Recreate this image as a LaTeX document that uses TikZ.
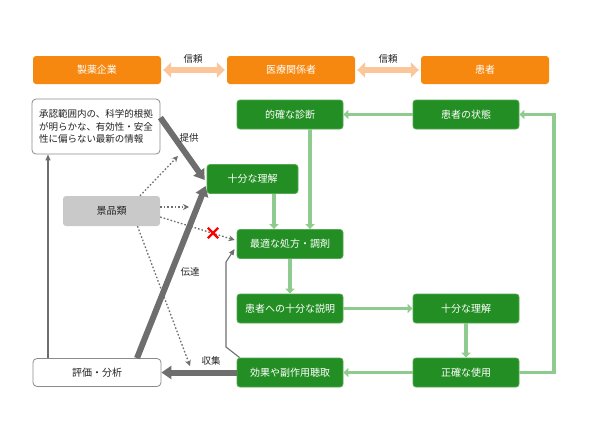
\documentclass[tikz,border=0pt]{standalone}
\usepackage{fontspec}
\setmainfont{Noto Sans CJK JP}
\usetikzlibrary{arrows.meta,calc}
\definecolor{orangec}{HTML}{F7880F}
\definecolor{peach}{HTML}{FBC79A}
\definecolor{greenc}{HTML}{238E23}
\definecolor{greenb}{HTML}{52AA52}
\definecolor{lgreen}{HTML}{8FCB8F}
\definecolor{dgray}{HTML}{6E6E6E}
\definecolor{kgray}{HTML}{C9C9C9}
\definecolor{txt}{HTML}{222222}
\begin{document}
\begin{tikzpicture}[x=1pt,y=-1pt,
  orangebox/.style={fill=orangec, rounded corners=3pt, minimum width=128pt, minimum height=28pt, inner sep=0pt, text=white, font=\fontsize{10}{12}\selectfont},
  greenbox/.style={fill=greenc, draw=greenb, line width=0.8pt, rounded corners=3pt, minimum width=106pt, minimum height=29pt, inner sep=0pt, text=white, font=\fontsize{10}{12}\selectfont},
  whitebox/.style={fill=white, draw=dgray!80, line width=0.8pt, rounded corners=4pt, minimum width=128pt, minimum height=28pt, inner sep=0pt, text=txt, font=\fontsize{9.5}{12.5}\selectfont},
  graybox/.style={fill=kgray, rounded corners=3pt, minimum width=97pt, minimum height=30pt, inner sep=0pt, text=txt, font=\fontsize{10}{12}\selectfont},
  lbl/.style={text=txt, font=\fontsize{9.5}{11}\selectfont, inner sep=0pt},
  trust/.style={draw=peach, line width=6pt, {Triangle[width=15pt,length=8pt]}-{Triangle[width=15pt,length=8pt]}},
  garrow/.style={draw=lgreen, line width=3.5pt, -{Triangle[width=9pt,length=5pt]}},
  thick arrow/.style={draw=dgray, line width=6pt, -{Triangle[width=13pt,length=10pt]}},
  thin arrow/.style={draw=dgray, line width=1.1pt, -{Triangle[width=5pt,length=6pt]}},
  dot arrow/.style={draw=dgray, line width=1.3pt, dash pattern=on 1.6pt off 2pt, -{Stealth[width=6pt,length=6pt]}}
]
\useasboundingbox (0,0) rectangle (590,442);

% top row
\node[orangebox] (seiyaku) at (97,70) {製薬企業};
\node[orangebox] (iryo) at (291,70) {医療関係者};
\node[orangebox] (kanja) at (485,70) {患者};
\draw[trust] ([xshift=2pt]seiyaku.east) -- ([xshift=-2pt]iryo.west);
\draw[trust] ([xshift=2pt]iryo.east) -- ([xshift=-2pt]kanja.west);
\node[lbl] (shin1) at (193,59) {信頼};
\node[lbl] (shin2) at (388,59) {信頼};

% green boxes
\node[greenbox] (shindan) at (290,114.5) {的確な診断};
\node[greenbox] (jotai) at (466,114.5) {患者の状態};
\node[greenbox, minimum width=91pt] (rikai1) at (252.5,179) {十分な理解};
\node[greenbox] (shoho) at (290,244) {最適な処方・調剤};
\node[greenbox] (setsumei) at (290,308.5) {患者への十分な説明};
\node[greenbox] (rikai2) at (466,308.5) {十分な理解};
\node[greenbox] (koka) at (290,372.5) {効果や副作用聴取};
\node[greenbox] (shiyo) at (466,372.5) {正確な使用};

% white and gray boxes
\node[whitebox, minimum height=55pt, align=left] (info) at (96,126.5) {承認範囲内の、科学的根拠\\が明らかな、有効性・安全\\性に偏らない最新の情報};
\node[graybox] (keihin) at (111.5,211) {景品類};
\node[whitebox, font=\fontsize{10}{12}\selectfont] (hyoka) at (97,372.5) {評価・分析};

% green flow
\draw[garrow] (jotai.west) -- (shindan.east);
\draw[garrow] ([xshift=20pt]shindan.south) -- ([xshift=20pt]shoho.north);
\draw[garrow] ([xshift=21.5pt]rikai1.south) -- ([xshift=-16pt]shoho.north);
\draw[garrow] (shoho.south) -- (setsumei.north);
\draw[garrow] (setsumei.east) -- (rikai2.west);
\draw[garrow] (rikai2.south) -- (shiyo.north);
\draw[garrow] (shiyo.west) -- (koka.east);
\coordinate (rc) at (554,114.5);
\draw[garrow] (shiyo.east) -| (rc) -- (jotai.east);

% gray flows
\draw[thick arrow] ([yshift=-19pt]info.north east) -- ([xshift=-2pt,yshift=-1pt]rikai1.west);
\node[lbl] (teikyo) at (189,138) {提供};
\draw[thick arrow] ([xshift=40pt]hyoka.north) -- ([xshift=-1pt,yshift=-7pt]rikai1.west);
\node[lbl] (dentatsu) at (190,272) {伝達};
\draw[thick arrow] (koka.west) -- (hyoka.east);
\node[lbl] (shushu) at (211,361) {収集};
\coordinate (lx) at (48,0);
\draw[thin arrow] ([xshift=-49pt]hyoka.north) -- (info.south -| lx);
\coordinate (k1) at (226,347);
\coordinate (k2) at (226,262);
\draw[thin arrow] ([xshift=3pt]koka.north west) -- (k1) -- (k2) -- ([xshift=-2pt,yshift=-5pt]shoho.west);

% dotted from keihin
\coordinate (d1) at (178,156);
\coordinate (d2) at (189,207);
\coordinate (d4) at (190,366);
\draw[dot arrow] ([xshift=28.5pt]keihin.north) -- (d1);
\draw[dot arrow] ([yshift=4pt]keihin.east) -- (d2);
\draw[dot arrow] ([yshift=-6pt]keihin.east) -- ([xshift=-2pt,yshift=4pt]shoho.west);
\draw[dot arrow] ([xshift=26pt]keihin.south) -- (d4);
\node[inner sep=0pt, minimum size=10pt] (batsu) at (213,233) {};
\draw[red, line width=2.2pt] (batsu.north west) -- (batsu.south east) (batsu.north east) -- (batsu.south west);
\end{tikzpicture}
\end{document}
